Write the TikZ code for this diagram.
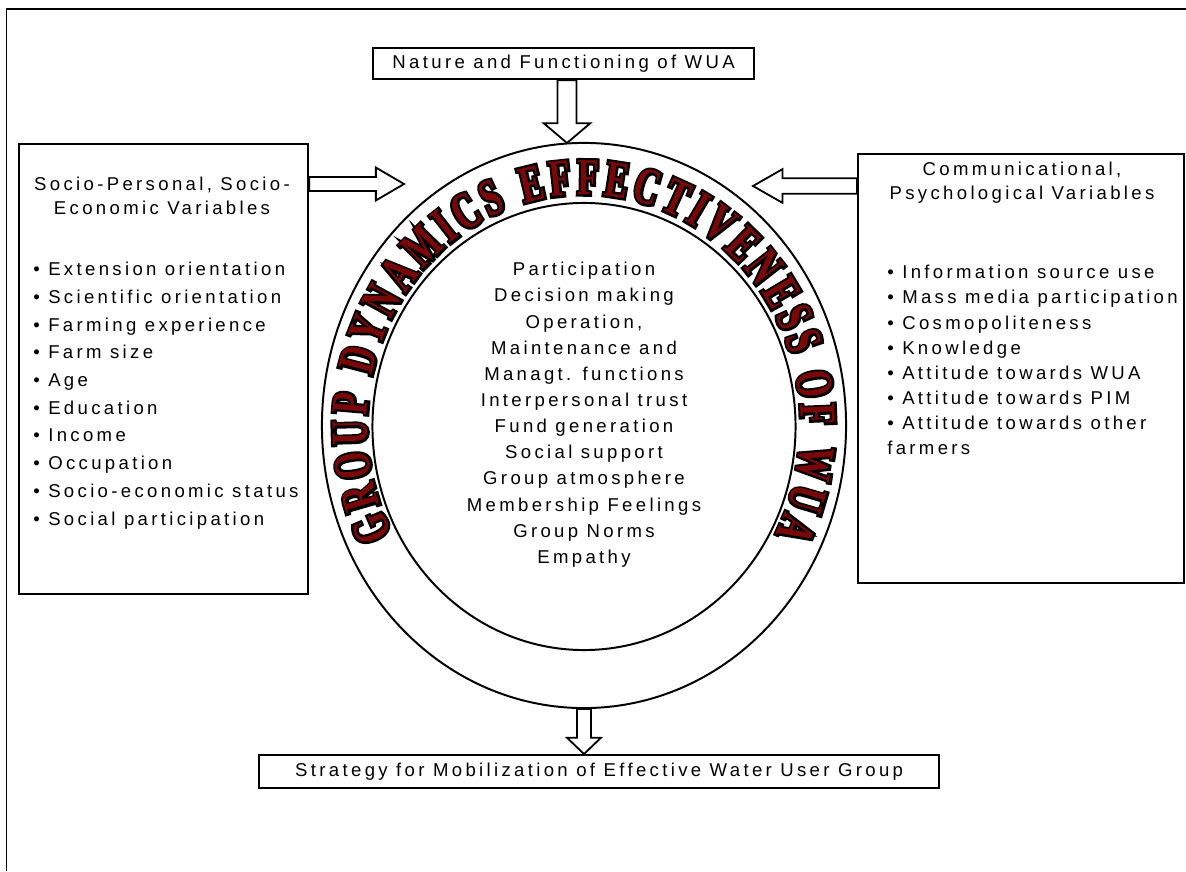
\documentclass[tikz,border=0pt]{standalone}
\usepackage{fontspec}
\setmainfont{Liberation Sans}
\newfontfamily\wideface{Liberation Sans}[LetterSpace=18]
\newfontfamily\arcface{Liberation Serif}[FakeStretch=0.66]
\newfontfamily\arcrim{Liberation Serif}[FakeStretch=0.66,FakeBold=9]
\usetikzlibrary{positioning,calc,shapes.geometric,decorations.text}
\definecolor{wordart}{RGB}{122,8,8}

\begin{document}
\begin{tikzpicture}[x=0.025cm, y=0.025cm, font=\wideface\fontsize{13.2}{19.7}\selectfont,
    box/.style={draw, line width=1.5pt, inner sep=0pt},
    ring/.style={draw, ellipse, line width=1.4pt, inner sep=0pt},
    fatarrow/.style n args={3}{draw, fill=white, line width=1.3pt, line join=miter,
      to path={($(\tikztotarget)!#3!(\tikztostart)$) coordinate (headbase)
        ($(\tikztostart)!#1!90:(\tikztotarget)$)
        -- ($(headbase)!#1!90:(\tikztotarget)$) -- ($(headbase)!#2!90:(\tikztotarget)$)
        -- (\tikztotarget)
        -- ($(headbase)!#2!-90:(\tikztotarget)$) -- ($(headbase)!#1!-90:(\tikztotarget)$)
        -- ($(\tikztostart)!#1!-90:(\tikztotarget)$) -- cycle}}]
  \useasboundingbox (0,0) rectangle (1186,871);
  \draw[line width=1.4pt] (6.5,0) -- (6.5,862) -- (1186,862);

  \node[box, anchor=north west, minimum width=9.525cm, minimum height=0.775cm] (topbox) at (372,824)
    {Nature and Functioning of WUA};
  \node[box, anchor=north west, minimum width=7.225cm, minimum height=11.25cm] (socio) at (18,728) {};
  \node[box, anchor=north west, minimum width=8.15cm, minimum height=10.725cm] (comm) at (857,718) {};
  \node[box, anchor=north west, minimum width=17cm, minimum height=0.825cm] (strat) at (258,117)
    {Strategy for Mobilization of Effective Water User Group};

  \node[anchor=north, align=center, inner sep=0pt, font=\wideface\fontsize{13.2}{17}\selectfont]
    (sociohead) at (162,694) {Socio-Personal, Socio-\\Economic Variables};
  \node[anchor=north west, align=left, inner sep=0pt] (sociolist) at (33,609)
    {• Extension orientation\\• Scientific orientation\\• Farming experience\\• Farm size\\• Age\\
     • Education\\• Income\\• Occupation\\• Socio-economic status\\• Social participation};

  \node[anchor=north, align=center, inner sep=0pt, font=\wideface\fontsize{13.2}{17}\selectfont]
    (commhead) at (1022,709) {Communicational,\\Psychological Variables};
  \node[anchor=north west, align=left, inner sep=0pt, font=\wideface\fontsize{13.2}{17.9}\selectfont]
    (commlist) at (887,606)
    {• Information source use\\• Mass media participation\\• Cosmopoliteness\\• Knowledge\\
     • Attitude towards WUA\\• Attitude towards PIM\\• Attitude towards other\\farmers};

  \node[ring, minimum width=13.1cm, minimum height=14.125cm] (ring) at (584,445.5) {};
  \node[ring, minimum width=10.575cm, minimum height=11.175cm] (core) at (584,444.5) {};

  \path[decorate, decoration={text along path, text align=fit to path,
      text={|\arcrim\bfseries\fontsize{37}{37}\selectfont|GROUP DYNAMICS EFFECTIVENESS OF WUA}}]
    (ring.center) ++(208:217 and 231) arc[start angle=208, end angle=-28, x radius=217, y radius=231];
  \path[decorate, decoration={text along path, text align=fit to path, text color=wordart,
      text={|\arcface\bfseries\fontsize{37}{37}\selectfont|GROUP DYNAMICS EFFECTIVENESS OF WUA}}]
    (ring.center) ++(208:217 and 231) arc[start angle=208, end angle=-28, x radius=217, y radius=231];

  \node[anchor=north, align=center, inner sep=0pt, font=\wideface\fontsize{13.2}{18.6}\selectfont]
    (factors) at (584,609)
    {Participation\\Decision making\\Operation,\\Maintenance and\\Managt. functions\\Interpersonal trust\\
     Fund generation\\Social support\\Group atmosphere\\Membership Feelings\\Group Norms\\Empathy};

  \coordinate (toptip) at (567,728);
  \coordinate (lefttip) at (404,687);
  \coordinate (righttip) at (753,685);
  \draw[fatarrow={6.75pt}{16.5pt}{14pt}] (toptip |- topbox.south) to (toptip);
  \draw[fatarrow={5pt}{11.7pt}{20pt}] (socio.east |- lefttip) to (lefttip);
  \draw[fatarrow={5.5pt}{12pt}{21pt}] (comm.west |- righttip) to (righttip);
  \draw[fatarrow={5pt}{12pt}{11.5pt}] (ring.south) to (ring.south |- strat.north);
\end{tikzpicture}
\end{document}
